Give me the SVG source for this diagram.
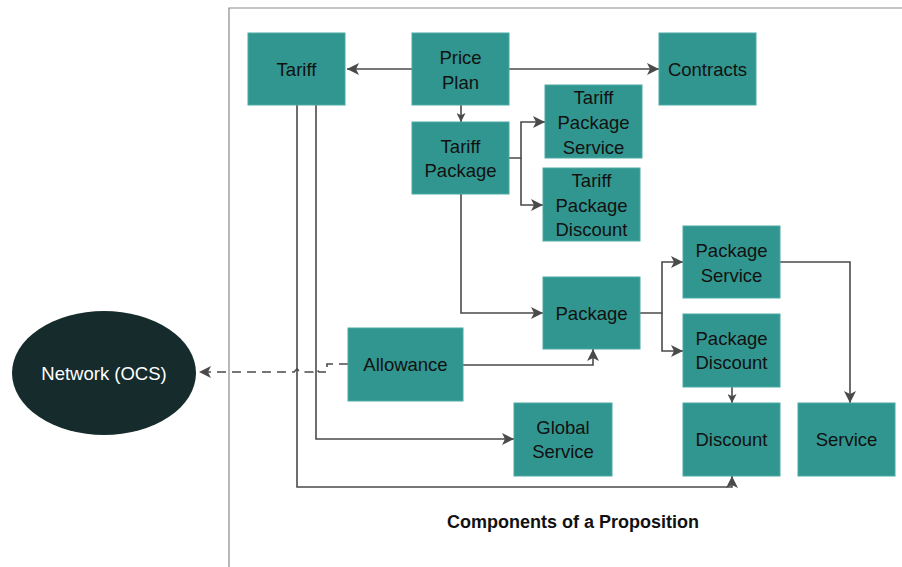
<svg xmlns="http://www.w3.org/2000/svg" width="902" height="567" viewBox="0 0 902 567">
<style>
.box{fill:#31968f;stroke:#4aaaa3;stroke-width:1}
.t{font-family:"Liberation Sans",Arial,sans-serif;font-size:18.5px;fill:#111;text-anchor:middle;dominant-baseline:central}
.c{fill:none;stroke:#4a4a4a;stroke-width:1.6}
.frame{fill:none;stroke:#8a8a8a;stroke-width:1.2}
</style>
<defs>
<marker id="ah" viewBox="0 0 10 10" refX="10" refY="5" markerWidth="9" markerHeight="9" markerUnits="userSpaceOnUse" orient="auto">
<path d="M0,0 L10,5 L0,10 L2.5,5 Z" fill="#4a4a4a"/>
</marker>
<marker id="ah2" viewBox="0 0 10 10" refX="10" refY="5" markerWidth="12" markerHeight="12" markerUnits="userSpaceOnUse" orient="auto">
<path d="M0,0 L10,5 L0,10 L2.5,5 Z" fill="#4a4a4a"/>
</marker>
</defs>
<rect width="902" height="567" fill="#fff"/>
<path class="frame" d="M229,567 L229,8 L902,8"/>
<g id="connectors">
<path class="c" d="M412,69 H347" marker-end="url(#ah2)"/>
<path class="c" d="M509,69 H659" marker-end="url(#ah2)"/>
<path class="c" d="M461,105 V122" marker-end="url(#ah)"/>
<path class="c" d="M509,158 H521 V122 H545" marker-end="url(#ah2)"/>
<path class="c" d="M521,158 V205 H543" marker-end="url(#ah2)"/>
<path class="c" d="M461,194 V313 H543" marker-end="url(#ah2)"/>
<path class="c" d="M640,313 H662 V262 H683" marker-end="url(#ah2)"/>
<path class="c" d="M662,313 V351 H683" marker-end="url(#ah2)"/>
<path class="c" d="M780,262 H850 V403" marker-end="url(#ah2)"/>
<path class="c" d="M732,387 V403" marker-end="url(#ah)"/>
<path class="c" d="M463,365 H593 V349" marker-end="url(#ah2)"/>
<path class="c" d="M316,105 V439 H514" marker-end="url(#ah2)"/>
<path class="c" d="M297,105 V487 H732 V476" marker-end="url(#ah2)"/>
<path class="c" d="M348,364 H327 V372 H319 L316,369 L313,372 H300 L297,369 L294,372 H199" stroke-dasharray="9,6" marker-end="url(#ah2)"/>
</g>
<g id="tariff"><rect class="box" x="248" y="33" width="97" height="72"/><text class="t" x="296.5" y="69">Tariff</text></g>
<g id="price-plan"><rect class="box" x="412" y="33" width="97" height="72"/><text class="t" x="460.5" y="57">Price</text><text class="t" x="460.5" y="82">Plan</text></g>
<g id="contracts"><rect class="box" x="659" y="33" width="97" height="72"/><text class="t" x="707.5" y="69">Contracts</text></g>
<g id="tariff-package"><rect class="box" x="412" y="122" width="97" height="72"/><text class="t" x="460.5" y="146">Tariff</text><text class="t" x="460.5" y="170">Package</text></g>
<g id="tariff-package-service"><rect class="box" x="545" y="85" width="97" height="73"/><text class="t" x="593.5" y="97">Tariff</text><text class="t" x="593.5" y="122">Package</text><text class="t" x="593.5" y="147">Service</text></g>
<g id="tariff-package-discount"><rect class="box" x="543" y="168" width="97" height="73"/><text class="t" x="591.5" y="180">Tariff</text><text class="t" x="591.5" y="205">Package</text><text class="t" x="591.5" y="229">Discount</text></g>
<g id="package-service"><rect class="box" x="683" y="226" width="97" height="72"/><text class="t" x="731.5" y="250">Package</text><text class="t" x="731.5" y="275">Service</text></g>
<g id="package"><rect class="box" x="543" y="277" width="97" height="72"/><text class="t" x="591.5" y="313">Package</text></g>
<g id="package-discount"><rect class="box" x="683" y="314" width="97" height="73"/><text class="t" x="731.5" y="338">Package</text><text class="t" x="731.5" y="362">Discount</text></g>
<g id="allowance"><rect class="box" x="348" y="328" width="115" height="73"/><text class="t" x="405.5" y="364.5">Allowance</text></g>
<g id="global-service"><rect class="box" x="514" y="403" width="98" height="73"/><text class="t" x="563" y="427">Global</text><text class="t" x="563" y="451">Service</text></g>
<g id="discount"><rect class="box" x="683" y="403" width="97" height="73"/><text class="t" x="731.5" y="439.5">Discount</text></g>
<g id="service"><rect class="box" x="798" y="403" width="97" height="73"/><text class="t" x="846.5" y="439.5">Service</text></g>
<g id="network"><ellipse cx="104" cy="373" rx="92" ry="62" fill="#152b2c"/><text class="t" x="104" y="373" style="fill:#fff">Network (OCS)</text></g>
<text x="573" y="522" style="font-family:'Liberation Sans',Arial,sans-serif;font-size:18px;font-weight:bold;fill:#111;text-anchor:middle;dominant-baseline:central">Components of a Proposition</text>
</svg>
